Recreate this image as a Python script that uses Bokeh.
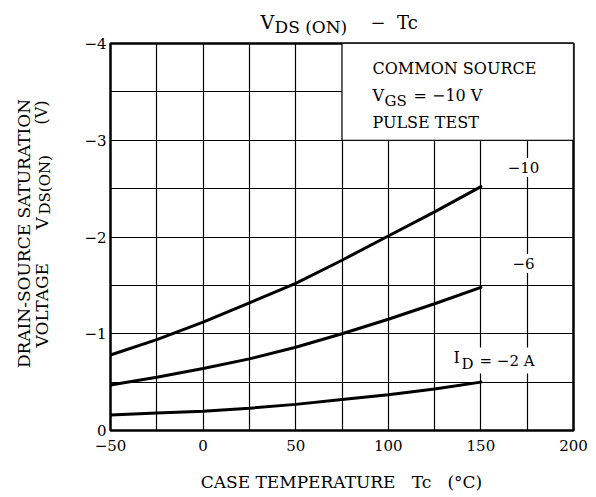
from math import pi
from bokeh.plotting import figure
from bokeh.models import Range1d, FixedTicker, Label
from bokeh.embed import file_html
from bokeh.resources import INLINE

# ---- data ----
TEMP = [-50, -25, 0, 25, 50, 75, 100, 125, 150]
VDS_ID_10 = [-0.78, -0.94, -1.12, -1.32, -1.52, -1.76, -2.01, -2.26, -2.52]
VDS_ID_6 = [-0.47, -0.55, -0.64, -0.74, -0.86, -1.00, -1.15, -1.31, -1.48]
VDS_ID_2 = [-0.16, -0.18, -0.20, -0.23, -0.27, -0.32, -0.37, -0.43, -0.50]
X_TICKS = [-50, 0, 50, 100, 150, 200]
Y_TICKS = [0, -1, -2, -3, -4]
X_GRID = [-50, -25, 0, 25, 50, 75, 100, 125, 150, 175, 200]
Y_GRID = [0, -0.5, -1, -1.5, -2, -2.5, -3, -3.5, -4]
BOX_X = [75, 200]
BOX_Y = [-3, -4]

FONT = "DejaVu Serif"
NB = "\u00a0"
W, H = 594, 495
# frame edges in picture pixels
FL, FT, FR, FB = 110, 43, 573, 430

p = figure(width=W, height=H, output_backend="svg", toolbar_location=None,
           x_range=Range1d(-50, 200), y_range=Range1d(0, -4),
           min_border_left=FL, min_border_top=FT,
           min_border_right=W - FR, min_border_bottom=H - FB)

p.outline_line_color = "black"
p.outline_line_width = 2.5
p.background_fill_color = "white"
p.border_fill_color = "white"

p.xgrid.ticker = FixedTicker(ticks=X_GRID)
p.ygrid.ticker = FixedTicker(ticks=Y_GRID)
for g in (p.xgrid, p.ygrid):
    g.grid_line_color = "black"
    g.grid_line_width = 1.2
    g.grid_line_alpha = 1.0

p.xaxis.ticker = FixedTicker(ticks=X_TICKS)
p.yaxis.ticker = FixedTicker(ticks=Y_TICKS)
p.xaxis.major_label_overrides = {t: (str(t).replace("-", "\u2212")) for t in X_TICKS}
p.yaxis.major_label_overrides = {t: (str(t).replace("-", "\u2212")) for t in Y_TICKS}
for ax in (p.xaxis, p.yaxis):
    ax.axis_line_color = None
    ax.major_tick_line_color = None
    ax.minor_tick_line_color = None
    ax.major_tick_out = 0
    ax.major_tick_in = 0
    ax.minor_tick_out = 0
    ax.major_label_text_font = FONT
    ax.major_label_text_font_size = "15px"
    ax.major_label_text_color = "black"
p.xaxis.major_label_standoff = 9
p.yaxis.major_label_standoff = 4

# annotation box (hides grid inside)
p.quad(left=BOX_X[0], right=BOX_X[1], bottom=BOX_Y[0], top=BOX_Y[1],
       fill_color="white", line_color="black", line_width=1.2)

for ys in (VDS_ID_10, VDS_ID_6, VDS_ID_2):
    p.line(TEMP, ys, line_color="black", line_width=3, line_cap="round")


def dx(px):
    return -50 + (px - FL) * 250 / (FR - FL)


def dy(py):
    return -(FB - py) * 4 / (FB - FT)


def lab(px, py, text, size, align="left", angle=0.0, bg=None, pad=0, side=None):
    kw = {}
    if bg:
        kw = dict(background_fill_color=bg, padding=pad)
    lbl = Label(x=dx(px), y=dy(py), text=text, text_font=FONT,
                text_font_size=f"{size}px", text_align=align,
                text_baseline="middle", angle=angle,
                text_color="black", **kw)
    if side:
        p.add_layout(lbl, side)
    else:
        p.add_layout(lbl)


# title  V_DS(ON) - Tc  (outside the frame: kept in side panels so it is not clipped)
lab(260, 21, "V", 19, side="above")
lab(274, 26, "DS (ON)", 17, side="above")
lab(370, 22, "\u2212" + NB + NB + "Tc", 18, side="below")

# box text
lab(372, 68, "COMMON SOURCE", 16)
lab(372, 95, "V", 16)
lab(384, 100, "GS", 15)
lab(413, 95, "= \u221210 V", 16)
lab(372, 122, "PULSE TEST", 16)

# curve labels
lab(523, 167, "\u221210", 15, align="center", bg="white", pad=4)
lab(523, 263, "\u22126", 15, align="center", bg="white", pad=4)
lab(475, 360, "= \u22122 A", 15, bg="white", pad=4)
lab(460, 363, "D", 15, bg="white", pad=1)
lab(452, 357, "I", 16, bg="white", pad=1)

# x axis label
lab(341, 481, "CASE TEMPERATURE" + NB * 3 + "Tc" + NB * 3 + "(\u00b0C)", 17,
    align="center", side="below")

# y axis label (rotated, reading upwards)
lab(23, 233, "DRAIN-SOURCE SATURATION", 17, align="center", angle=pi / 2, side="left")
lab(41, 347, "VOLTAGE", 17, angle=pi / 2, side="left")
lab(41, 229, "V", 17, angle=pi / 2, side="left")
lab(44, 214, "DS(ON)", 15, angle=pi / 2, side="left")
lab(41, 124, "(V)", 16, angle=pi / 2, side="right")

open("out.html", "w").write(file_html(p, INLINE))
